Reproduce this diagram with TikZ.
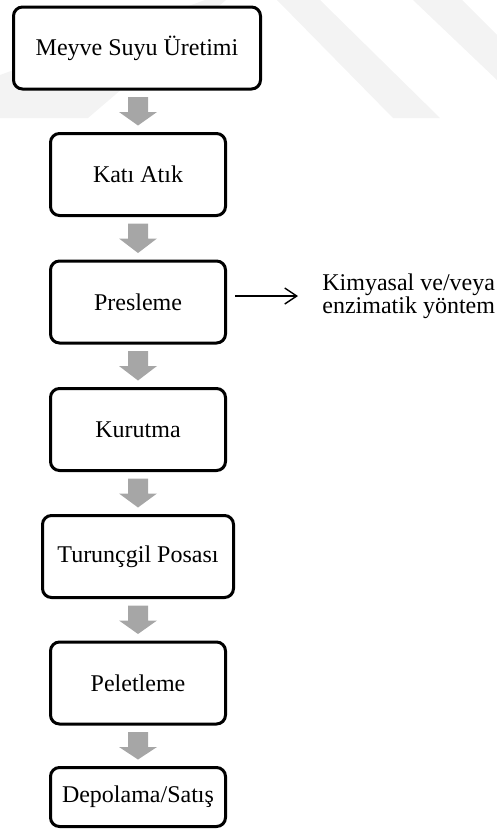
\documentclass[tikz,border=0pt]{standalone}
\usepackage{fontspec}
\setmainfont{Liberation Serif}
\usetikzlibrary{calc,arrows.meta}

\definecolor{flowgray}{RGB}{166,166,166}
\definecolor{wmgray}{RGB}{243,243,243}

% thick block arrow from the bottom of one step to the top of the next
\newcommand\graystep[2]{%
  \fill[flowgray] let \p1=(#1.south), \p2=(#2.north) in
    (\x2-5pt,\y1-3.25pt) -- (\x2+5pt,\y1-3.25pt) -- (\x2+5pt,\y1-10.75pt)
    -- (\x2+9.5pt,\y1-10.75pt) -- (\x2,\y2+3.25pt) -- (\x2-9.5pt,\y1-10.75pt)
    -- (\x2-5pt,\y1-10.75pt) -- cycle;}

\tikzset{
  stepbox/.style={draw=black, line width=1.5pt, rounded corners=4.5pt, fill=white,
    minimum width=87.5pt, minimum height=41pt, inner sep=2pt,
    font=\fontsize{12}{14}\selectfont},
  sidearrow/.style={line width=0.7pt, -{Straight Barb[length=6pt,width=8pt]}},
  notetext/.style={anchor=west, align=left, inner sep=0pt,
    font=\fontsize{12}{11.5}\selectfont},
}

\begin{document}
\begin{tikzpicture}[x=0.5pt, y=-0.5pt]
\useasboundingbox (0,0) rectangle (497,830);

% faint diagonal bands in the background
\fill[wmgray] (0,75) -- (205,0) -- (226,0) -- (88,118) -- (0,118) -- cycle;
\fill[wmgray] (277,0) -- (320,0) -- (440,118) -- (393,118) -- cycle;
\fill[wmgray] (413,0) -- (462,0) -- (497,35) -- (497,80) -- cycle;

% process steps
\node[stepbox, minimum width=123.5pt] (uretim) at (137,48) {Meyve Suyu Üretimi};
\node[stepbox] (atik) at (138,174.5) {Katı Atık};
\node[stepbox] (pres) at (138,302) {Presleme};
\node[stepbox] (kurutma) at (138,429.5) {Kurutma};
\node[stepbox, minimum width=95.5pt] (posa) at (138,556.5) {Turunçgil Posası};
\node[stepbox] (pelet) at (138,683) {Peletleme};
\node[stepbox, minimum height=29.5pt] (depo) at (138,797) {Depolama/Satış};

\graystep{uretim}{atik}
\graystep{atik}{pres}
\graystep{pres}{kurutma}
\graystep{kurutma}{posa}
\graystep{posa}{pelet}
\graystep{pelet}{depo}

% side branch of the pressing step
\node[notetext] (yontem) at (322,296) {Kimyasal ve/veya\\enzimatik yöntem};
\coordinate (sidestart) at ($(pres.east |- yontem.west)+(4pt,0)$);
\coordinate (sideend) at ($(yontem.west)+(-12pt,0)$);
\draw[sidearrow] (sidestart) -- (sideend);
\end{tikzpicture}
\end{document}
